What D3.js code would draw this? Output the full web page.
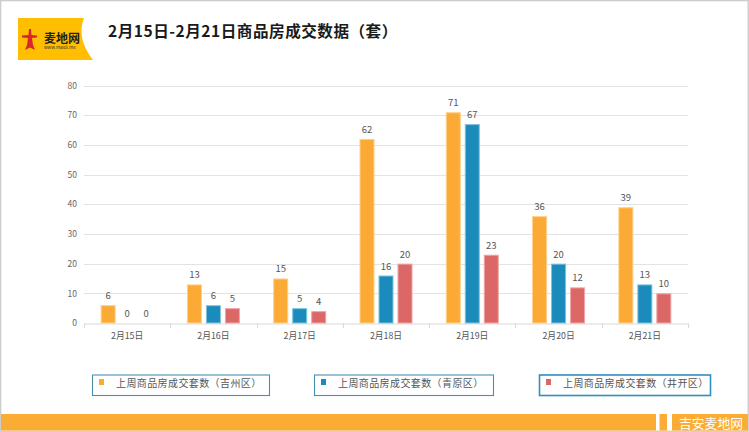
<!DOCTYPE html>
<html>
<head>
<meta charset="utf-8">
<script src="https://cdn.jsdelivr.net/npm/d3@7"></script>
<style>
  html, body { margin: 0; padding: 0; background: #fff; }
  svg { display: block; font-family: "Noto Sans CJK SC", "Noto Sans", sans-serif; }
</style>
</head>
<body>
<svg id="chart" width="749" height="432"></svg>
<script>
const categories = ["2月15日", "2月16日", "2月17日", "2月18日", "2月19日", "2月20日", "2月21日"];
const seriesNames = ["上周商品房成交套数（吉州区）", "上周商品房成交套数（青原区）", "上周商品房成交套数（井开区）"];
const jizhou = [6, 13, 15, 62, 71, 36, 39];
const qingyuan = [0, 6, 5, 16, 67, 20, 13];
const jingkai = [0, 5, 4, 20, 23, 12, 10];
const yTicks = [0, 10, 20, 30, 40, 50, 60, 70, 80];
const titleText = "2月15日-2月21日商品房成交数据（套）";

const seriesValues = [jizhou, qingyuan, jingkai];
const colors = ["#fbab35", "#1a8bbb", "#dc6767"];
const strokes = ["#fdd08a", "#7fc3df", "#f0a5a5"];

const svg = d3.select("#chart");

// frame
svg.append("rect").attr("x", 0.6).attr("y", 0.6).attr("width", 747.6).attr("height", 430.6)
  .attr("fill", "#fff").attr("stroke", "#cdcdcd").attr("stroke-width", 1.4);

// logo
const logo = svg.append("g");
logo.append("path").attr("d", "M18,18 H84 Q76,38 93,60 H18 Z").attr("fill", "#ffbf00");
logo.append("path")
  .attr("d", "M29,29 L31,29 L31.5,35 L37,35.5 L37,37.5 L32,38 L33,45 L35,50 L30,47.5 L25,50 L27,45 L28,38 L22,37.5 L22,35.5 L28.5,35 Z")
  .attr("fill", "#d8262b");
logo.append("text").attr("x", 44).attr("y", 42.5).attr("font-size", 12).attr("font-weight", "bold")
  .attr("fill", "#222").text("麦地网");
logo.append("text").attr("x", 44).attr("y", 49).attr("font-size", 4.5).attr("fill", "#333")
  .text("www.maidi.me");

// title
svg.append("text").attr("x", 108).attr("y", 37).attr("font-size", 15.6).attr("font-weight", "bold")
  .attr("letter-spacing", 0.5)
  .attr("fill", "#1a1a1a").text(titleText);

// scales
const x0 = d3.scaleBand().domain(categories).range([84, 688]).paddingInner(0).paddingOuter(0);
const x1 = d3.scaleBand().domain(d3.range(3)).range([0, x0.bandwidth()]).paddingInner(0.21).paddingOuter(0.876);
const y = d3.scaleLinear().domain([0, 80]).range([323, 85.5]);

// gridlines
svg.append("g").selectAll("line").data(yTicks.filter(d => d > 0)).join("line")
  .attr("x1", 84).attr("x2", 688)
  .attr("y1", d => Math.round(y(d)) + 0.5).attr("y2", d => Math.round(y(d)) + 0.5)
  .attr("stroke", "#e3e3e3").attr("stroke-width", 1);

// y axis labels
const yAxis = d3.axisLeft(y).tickValues(yTicks).tickSize(0).tickPadding(7);
const gy = svg.append("g").attr("transform", "translate(84,0)").call(yAxis);
gy.select(".domain").remove();
gy.selectAll("text").attr("font-size", 8.5).attr("fill", "#666").attr("font-family", "'Noto Sans CJK SC', sans-serif");

// x axis
const xAxis = d3.axisBottom(x0).tickSize(0).tickPadding(9);
const gx = svg.append("g").attr("transform", "translate(0,323.5)").call(xAxis);
gx.select(".domain").attr("stroke", "#d9d9d9");
gx.selectAll("text").attr("font-size", 8.8).attr("fill", "#555").attr("font-family", "'Noto Sans CJK SC', sans-serif");
// boundary ticks
const bounds = categories.map(c => x0(c)).concat([x0.range()[1]]);
svg.append("g").selectAll("line").data(bounds).join("line")
  .attr("x1", d => Math.round(d) + 0.5).attr("x2", d => Math.round(d) + 0.5)
  .attr("y1", 323.5).attr("y2", 328).attr("stroke", "#d9d9d9");

// bars
const groups = svg.append("g").selectAll("g").data(categories).join("g")
  .attr("transform", c => `translate(${x0(c)},0)`);
groups.each(function(c, ci) {
  const g = d3.select(this);
  seriesValues.forEach((vals, si) => {
    const v = vals[ci];
    if (v > 0) {
      g.append("rect")
        .attr("x", x1(si) + 0.5).attr("y", y(v) + 0.5)
        .attr("width", x1.bandwidth() - 1).attr("height", y(0) - y(v) - 0.5)
        .attr("fill", colors[si]).attr("stroke", strokes[si]).attr("stroke-width", 1);
    }
    g.append("text")
      .attr("x", x1(si) + x1.bandwidth() / 2).attr("y", y(v) - 6)
      .attr("text-anchor", "middle").attr("font-size", 9.5).attr("fill", "#555")
      .text(v);
  });
});

// legend
const legendX = [92, 314, 539];
const legendW = [177, 179, 171];
const lg = svg.append("g").selectAll("g").data(seriesNames).join("g")
  .attr("transform", (d, i) => `translate(${legendX[i]},374.5)`);
lg.append("rect").attr("x", 0.5).attr("y", 0.5)
  .attr("width", (d, i) => legendW[i]).attr("height", 20.5)
  .attr("fill", "#fff").attr("stroke", (d, i) => i === 2 ? "#2f8fc2" : "#4a8fb2")
  .attr("stroke-width", (d, i) => i === 2 ? 1.6 : 1.1);
lg.append("rect").attr("x", 7).attr("y", 4.5).attr("width", 5).attr("height", 6)
  .attr("fill", (d, i) => colors[i]);
lg.append("text").attr("x", 24).attr("y", 12.5).attr("font-size", 10).attr("letter-spacing", 0.4)
  .attr("fill", "#555").text(d => d);

// bottom band
svg.append("rect").attr("x", 1).attr("y", 414).attr("width", 747).attr("height", 16.5).attr("fill", "#fbac35");
svg.append("rect").attr("x", 656).attr("y", 414).attr("width", 3.5).attr("height", 16.5).attr("fill", "#fff");
svg.append("rect").attr("x", 667).attr("y", 414).attr("width", 5).attr("height", 16.5).attr("fill", "#fff");
svg.append("text").attr("x", 679).attr("y", 427.5).attr("font-size", 12.8).attr("fill", "#fff")
  .text("吉安麦地网");
</script>
</body>
</html>
